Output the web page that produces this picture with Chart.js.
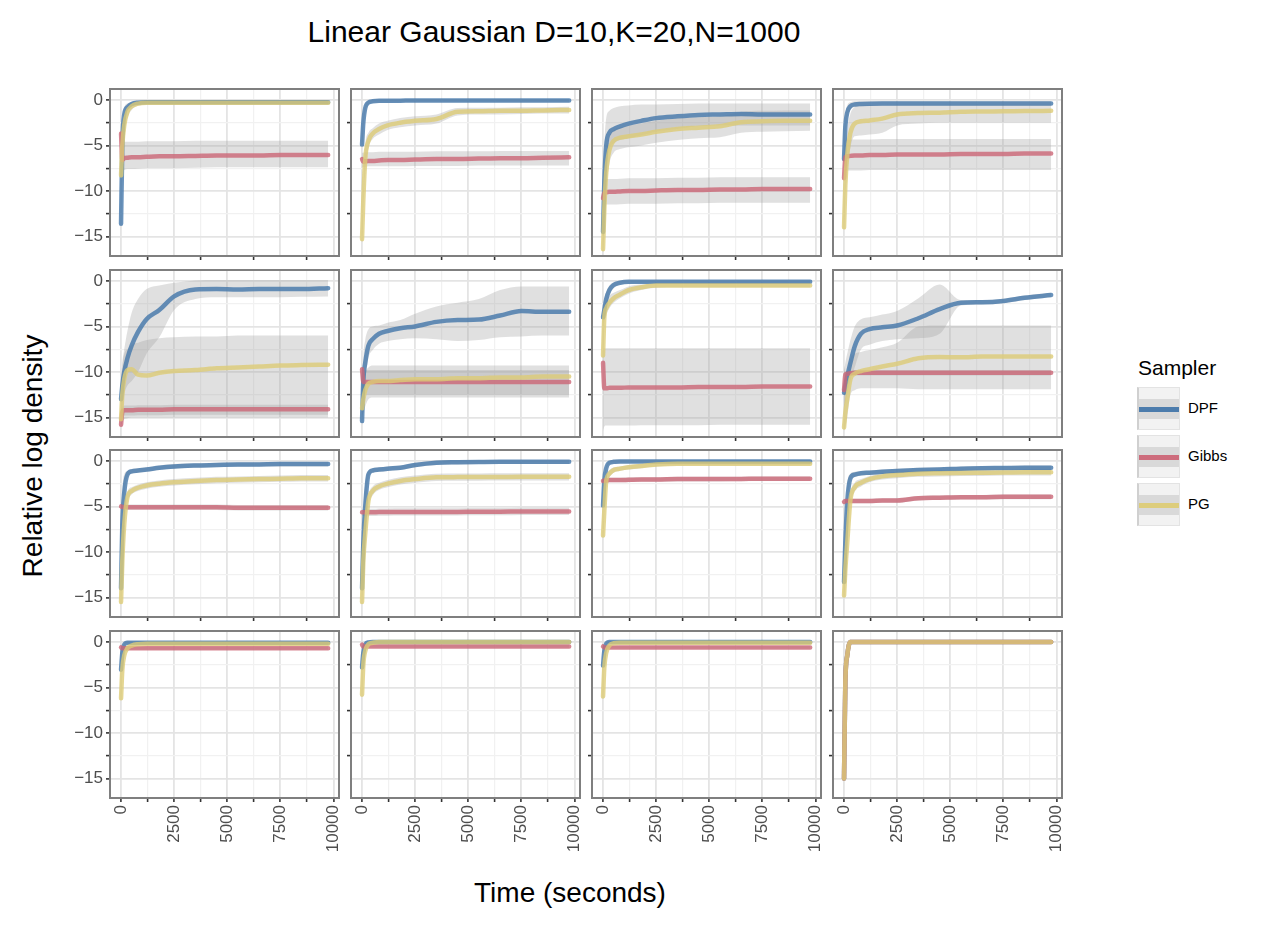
<!DOCTYPE html>
<html><head><meta charset="utf-8">
<script src="https://cdn.jsdelivr.net/npm/chart.js@4.4.1/dist/chart.umd.min.js"></script>
<style>
html,body{margin:0;padding:0;background:#fff;}
#root{position:relative;width:1281px;height:932px;background:#fff;overflow:hidden;font-family:"Liberation Sans",Arial,Helvetica,sans-serif;color:#000;}
#root canvas{position:absolute;}
.txt{position:absolute;white-space:nowrap;}
</style></head>
<body><div id="root"></div>
<script>
// ---------- data ----------
const samplers = ['DPF', 'Gibbs', 'PG'];
const times = [0, 60, 150, 300, 500, 800, 1200, 1800, 2500, 3500, 4500, 5500, 6500, 7500, 8500, 9750];
const xTickValues = [0, 1250, 2500, 3750, 5000, 6250, 7500, 8750, 10000];
const xTickLabels = ['0', '', '2500', '', '5000', '', '7500', '', '10000'];
const yTickValues = [-15, -12.5, -10, -7.5, -5, -2.5, 0];
const yTickLabels = ['\u221215', '', '\u221210', '', '\u22125', '', '0'];
const chartTitle = 'Linear Gaussian D=10,K=20,N=1000';
const xTitle = 'Time (seconds)';
const yTitle = 'Relative log density';
const legendTitle = 'Sampler';

const dpfMean = [
 [-13.6,-5,-1.6,-0.8,-0.45,-0.3,-0.25,-0.25,-0.25,-0.25,-0.25,-0.25,-0.25,-0.25,-0.25,-0.25],
 [-4.9,-2.5,-0.9,-0.3,-0.15,-0.1,-0.1,-0.08,-0.05,-0.05,-0.05,-0.05,-0.05,-0.05,-0.05,-0.05],
 [-14.5,-9,-5,-3.6,-3.2,-2.9,-2.6,-2.3,-2,-1.8,-1.65,-1.6,-1.55,-1.6,-1.6,-1.6],
 [-6.5,-3,-1.4,-0.7,-0.5,-0.45,-0.42,-0.4,-0.4,-0.4,-0.4,-0.4,-0.4,-0.4,-0.4,-0.4],
 [-13,-11.5,-10,-8.5,-7.1,-5.6,-4.2,-3.2,-1.7,-0.95,-0.9,-0.95,-0.9,-0.9,-0.9,-0.8],
 [-15.4,-11,-9,-7.1,-6.4,-5.8,-5.5,-5.2,-5,-4.5,-4.3,-4.25,-3.8,-3.3,-3.4,-3.4],
 [-4,-3.2,-2,-1,-0.45,-0.2,-0.1,-0.1,-0.1,-0.1,-0.1,-0.1,-0.1,-0.1,-0.1,-0.1],
 [-12.3,-11.5,-10.5,-9,-7.2,-5.8,-5.3,-5.1,-4.9,-4.1,-3.1,-2.4,-2.35,-2.2,-1.85,-1.55],
 [-14,-7,-3.5,-1.5,-1.15,-1.05,-0.95,-0.75,-0.6,-0.5,-0.45,-0.4,-0.38,-0.35,-0.35,-0.35],
 [-14,-9,-5,-1.5,-1.05,-0.95,-0.85,-0.75,-0.45,-0.2,-0.15,-0.12,-0.1,-0.1,-0.1,-0.1],
 [-4.9,-2.2,-0.8,-0.2,-0.1,-0.05,-0.05,-0.05,-0.05,-0.05,-0.05,-0.05,-0.05,-0.05,-0.05,-0.05],
 [-13.3,-9,-4.5,-1.9,-1.5,-1.35,-1.3,-1.2,-1.1,-1,-0.95,-0.85,-0.8,-0.78,-0.75,-0.75],
 [-3.05,-1.2,-0.3,-0.1,-0.1,-0.1,-0.1,-0.1,-0.1,-0.1,-0.1,-0.1,-0.1,-0.1,-0.1,-0.1],
 [-2.8,-1.2,-0.3,-0.05,0,0,0,0,0,0,0,0,0,0,0,0],
 [-2.6,-1,-0.2,0,0,0,0,0,0,0,0,0,0,0,0,0],
 [-15,-4.5,-1.5,0,0,0,0,0,0,0,0,0,0,0,0,0]
];
const dpfLow = [
 [-14.2,-6.5,-2.4,-1.2,-0.7,-0.5,-0.45,-0.45,-0.45,-0.45,-0.45,-0.45,-0.45,-0.45,-0.45,-0.45],
 [-5.5,-3.5,-1.4,-0.55,-0.35,-0.3,-0.3,-0.25,-0.25,-0.25,-0.25,-0.25,-0.25,-0.25,-0.25,-0.25],
 [-16,-12,-8,-5.5,-4.8,-4.4,-4.2,-3.9,-3.5,-3.2,-2.9,-2.8,-2.8,-2.8,-2.8,-2.8],
 [-7.5,-4.5,-2.2,-1.1,-0.8,-0.7,-0.65,-0.6,-0.6,-0.6,-0.6,-0.6,-0.6,-0.6,-0.6,-0.6],
 [-15,-14,-12.5,-11.5,-11,-10,-8,-6.2,-3.2,-2,-1.8,-1.8,-1.8,-1.8,-1.75,-1.7],
 [-16,-14,-11,-8.5,-7.6,-6.9,-6.6,-6.4,-6.3,-6.4,-6.6,-6.5,-6.2,-6.1,-6,-6],
 [-5,-4.2,-2.8,-1.5,-0.8,-0.4,-0.3,-0.25,-0.25,-0.25,-0.25,-0.25,-0.25,-0.25,-0.25,-0.25],
 [-14,-13.5,-12.5,-11,-9.5,-7.5,-7,-6.6,-6.4,-6.3,-5.8,-2.7,-2.6,-2.45,-2.1,-1.8],
 [-14.5,-8,-4.2,-1.8,-1.4,-1.3,-1.2,-1,-0.85,-0.75,-0.7,-0.65,-0.6,-0.6,-0.6,-0.6],
 [-14.5,-10,-6,-1.9,-1.3,-1.2,-1.1,-1,-0.7,-0.45,-0.4,-0.35,-0.35,-0.35,-0.35,-0.35],
 [-5.3,-2.6,-1.1,-0.4,-0.3,-0.25,-0.25,-0.25,-0.25,-0.25,-0.25,-0.25,-0.25,-0.25,-0.25,-0.25],
 [-13.8,-10,-5.5,-2.3,-1.8,-1.6,-1.55,-1.45,-1.35,-1.25,-1.2,-1.1,-1.05,-1,-1,-1],
 [-3.4,-1.5,-0.5,-0.25,-0.25,-0.25,-0.25,-0.25,-0.25,-0.25,-0.25,-0.25,-0.25,-0.25,-0.25,-0.25],
 [-3.1,-1.5,-0.5,-0.2,-0.15,-0.15,-0.15,-0.15,-0.15,-0.15,-0.15,-0.15,-0.15,-0.15,-0.15,-0.15],
 [-2.9,-1.3,-0.4,-0.15,-0.15,-0.15,-0.15,-0.15,-0.15,-0.15,-0.15,-0.15,-0.15,-0.15,-0.15,-0.15],
 [-15.1,-4.7,-1.7,-0.1,-0.1,-0.1,-0.1,-0.1,-0.1,-0.1,-0.1,-0.1,-0.1,-0.1,-0.1,-0.1]
];
const dpfHigh = [
 [-12.5,-3.5,-0.9,-0.4,-0.2,-0.1,-0.05,-0.05,-0.05,-0.05,-0.05,-0.05,-0.05,-0.05,-0.05,-0.05],
 [-4,-1.5,-0.5,-0.1,0,0.05,0.05,0.08,0.1,0.1,0.1,0.1,0.1,0.1,0.1,0.1],
 [-10,-5,-2,-1.2,-0.9,-0.7,-0.6,-0.5,-0.5,-0.45,-0.4,-0.4,-0.4,-0.4,-0.4,-0.4],
 [-5,-1.8,-0.6,-0.25,-0.15,-0.15,-0.15,-0.15,-0.15,-0.15,-0.15,-0.15,-0.15,-0.15,-0.15,-0.15],
 [-11,-9,-7.5,-5.5,-3.5,-2,-0.9,-0.5,-0.2,0.05,0.1,0.1,0.1,0.1,0.1,0.1],
 [-13,-8.5,-6.5,-5.3,-5,-4.9,-4.6,-4.3,-3.6,-2.8,-2.4,-2,-1,-0.6,-0.6,-0.6],
 [-3,-2,-1.2,-0.5,-0.15,0,0.05,0.05,0.05,0.05,0.05,0.05,0.05,0.05,0.05,0.05],
 [-10,-9,-8,-6.5,-5,-4.2,-4,-3.7,-3.3,-1.9,-0.4,-2.1,-2.1,-1.95,-1.6,-1.3],
 [-13,-4,-1.5,-1.1,-0.9,-0.8,-0.7,-0.5,-0.35,-0.25,-0.2,-0.15,-0.15,-0.1,-0.1,-0.1],
 [-13,-6,-2.5,-1.1,-0.8,-0.7,-0.6,-0.5,-0.2,0.05,0.1,0.1,0.1,0.1,0.1,0.1],
 [-4.5,-1.8,-0.5,0,0.1,0.12,0.12,0.12,0.12,0.12,0.12,0.12,0.12,0.12,0.12,0.12],
 [-12.5,-7,-2.5,-1.4,-1.2,-1.1,-1.05,-0.95,-0.85,-0.75,-0.7,-0.6,-0.55,-0.55,-0.5,-0.5],
 [-2.7,-0.9,-0.1,0.05,0.05,0.05,0.05,0.05,0.05,0.05,0.05,0.05,0.05,0.05,0.05,0.05],
 [-2.5,-0.9,-0.1,0.1,0.1,0.1,0.1,0.1,0.1,0.1,0.1,0.1,0.1,0.1,0.1,0.1],
 [-2.3,-0.7,0,0.1,0.1,0.1,0.1,0.1,0.1,0.1,0.1,0.1,0.1,0.1,0.1,0.1],
 [-14.9,-4.3,-1.3,0.1,0.1,0.1,0.1,0.1,0.1,0.1,0.1,0.1,0.1,0.1,0.1,0.1]
];

const gibbsMean = [
 [-3.7,-6.6,-6.4,-6.35,-6.3,-6.3,-6.25,-6.2,-6.2,-6.15,-6.1,-6.1,-6.1,-6.05,-6.05,-6.05],
 [-6.5,-6.8,-6.75,-6.7,-6.7,-6.65,-6.6,-6.6,-6.55,-6.5,-6.5,-6.45,-6.4,-6.4,-6.35,-6.3],
 [-10.8,-10.2,-10.15,-10.1,-10.1,-10.05,-10,-10,-9.95,-9.9,-9.9,-9.85,-9.85,-9.8,-9.8,-9.8],
 [-8.6,-6.3,-6.2,-6.15,-6.1,-6.1,-6.05,-6.05,-6,-6,-6,-5.95,-5.95,-5.95,-5.9,-5.9],
 [-15.8,-14.4,-14.2,-14.2,-14.2,-14.15,-14.15,-14.15,-14.1,-14.1,-14.1,-14.1,-14.1,-14.1,-14.1,-14.1],
 [-9.7,-11.1,-11.1,-11.1,-11.1,-11.1,-11.1,-11.1,-11.1,-11.1,-11.1,-11.1,-11.1,-11.1,-11.1,-11.1],
 [-9,-11.8,-11.8,-11.75,-11.75,-11.75,-11.7,-11.7,-11.7,-11.7,-11.65,-11.65,-11.65,-11.6,-11.6,-11.6],
 [-12,-10.3,-10.2,-10.15,-10.1,-10.1,-10.1,-10.1,-10.1,-10.1,-10.1,-10.1,-10.1,-10.1,-10.1,-10.1],
 [-5,-5.05,-5.05,-5.1,-5.1,-5.1,-5.1,-5.1,-5.1,-5.1,-5.1,-5.15,-5.15,-5.15,-5.15,-5.15],
 [-5.65,-5.65,-5.65,-5.65,-5.65,-5.62,-5.62,-5.6,-5.6,-5.6,-5.6,-5.58,-5.58,-5.55,-5.55,-5.55],
 [-2.2,-2.15,-2.15,-2.1,-2.1,-2.1,-2.08,-2.05,-2.05,-2,-2,-2,-1.98,-1.95,-1.95,-1.95],
 [-4.5,-4.4,-4.4,-4.4,-4.4,-4.4,-4.4,-4.35,-4.35,-4.1,-4.05,-4,-4,-3.95,-3.95,-3.95],
 [-0.6,-0.7,-0.7,-0.7,-0.7,-0.7,-0.7,-0.7,-0.7,-0.7,-0.7,-0.7,-0.7,-0.7,-0.7,-0.7],
 [-0.3,-0.5,-0.5,-0.5,-0.5,-0.5,-0.5,-0.5,-0.5,-0.5,-0.5,-0.5,-0.5,-0.5,-0.5,-0.5],
 [-0.5,-0.6,-0.6,-0.6,-0.6,-0.6,-0.6,-0.6,-0.6,-0.6,-0.6,-0.6,-0.6,-0.6,-0.6,-0.6],
 [-15,-4.5,-1.5,0,0,0,0,0,0,0,0,0,0,0,0,0]
];
const gibbsLow = [
 [-8.2,-7.9,-7.7,-7.6,-7.6,-7.55,-7.5,-7.5,-7.5,-7.45,-7.4,-7.4,-7.4,-7.4,-7.4,-7.4],
 [-7.4,-7.4,-7.35,-7.3,-7.3,-7.3,-7.3,-7.3,-7.25,-7.25,-7.25,-7.2,-7.2,-7.2,-7.2,-7.2],
 [-11.8,-11.6,-11.5,-11.5,-11.5,-11.45,-11.4,-11.4,-11.4,-11.35,-11.35,-11.3,-11.3,-11.3,-11.3,-11.3],
 [-8.8,-7.8,-7.75,-7.75,-7.75,-7.75,-7.7,-7.7,-7.7,-7.7,-7.7,-7.7,-7.7,-7.7,-7.7,-7.7],
 [-16.3,-15,-14.8,-14.8,-14.8,-14.75,-14.75,-14.75,-14.7,-14.7,-14.7,-14.7,-14.7,-14.7,-14.7,-14.7],
 [-12.6,-12.5,-12.5,-12.5,-12.5,-12.5,-12.5,-12.5,-12.5,-12.5,-12.5,-12.5,-12.5,-12.5,-12.5,-12.5],
 [-16.5,-16,-15.9,-15.9,-15.9,-15.9,-15.9,-15.85,-15.85,-15.85,-15.85,-15.8,-15.8,-15.8,-15.8,-15.8],
 [-12.4,-10.6,-10.5,-10.45,-10.4,-10.4,-10.4,-10.4,-10.4,-10.4,-10.4,-10.4,-10.4,-10.4,-10.4,-10.4],
 [-5.3,-5.35,-5.35,-5.4,-5.4,-5.4,-5.4,-5.4,-5.4,-5.4,-5.4,-5.45,-5.45,-5.45,-5.45,-5.45],
 [-6.05,-6.05,-6.05,-6.05,-6.05,-6.02,-6.02,-6,-6,-6,-6,-5.98,-5.98,-5.95,-5.95,-5.95],
 [-2.45,-2.4,-2.4,-2.35,-2.35,-2.35,-2.33,-2.3,-2.3,-2.25,-2.25,-2.25,-2.23,-2.2,-2.2,-2.2],
 [-4.8,-4.65,-4.65,-4.65,-4.65,-4.65,-4.65,-4.6,-4.6,-4.35,-4.3,-4.25,-4.25,-4.2,-4.2,-4.2],
 [-0.8,-0.85,-0.85,-0.85,-0.85,-0.85,-0.85,-0.85,-0.85,-0.85,-0.85,-0.85,-0.85,-0.85,-0.85,-0.85],
 [-0.5,-0.65,-0.65,-0.65,-0.65,-0.65,-0.65,-0.65,-0.65,-0.65,-0.65,-0.65,-0.65,-0.65,-0.65,-0.65],
 [-0.7,-0.75,-0.75,-0.75,-0.75,-0.75,-0.75,-0.75,-0.75,-0.75,-0.75,-0.75,-0.75,-0.75,-0.75,-0.75],
 [-15.1,-4.7,-1.7,-0.1,-0.1,-0.1,-0.1,-0.1,-0.1,-0.1,-0.1,-0.1,-0.1,-0.1,-0.1,-0.1]
];
const gibbsHigh = [
 [-3.5,-4.6,-4.6,-4.6,-4.6,-4.6,-4.55,-4.55,-4.55,-4.5,-4.5,-4.5,-4.5,-4.5,-4.5,-4.5],
 [-5.8,-5.8,-5.75,-5.75,-5.75,-5.7,-5.7,-5.7,-5.7,-5.65,-5.65,-5.65,-5.6,-5.6,-5.6,-5.6],
 [-8.8,-8.7,-8.7,-8.7,-8.7,-8.65,-8.6,-8.6,-8.6,-8.55,-8.55,-8.5,-8.5,-8.5,-8.5,-8.5],
 [-4.5,-4.4,-4.35,-4.35,-4.35,-4.35,-4.35,-4.3,-4.3,-4.3,-4.3,-4.3,-4.3,-4.3,-4.3,-4.3],
 [-14,-13.8,-13.7,-13.7,-13.7,-13.65,-13.65,-13.65,-13.6,-13.6,-13.6,-13.6,-13.6,-13.6,-13.6,-13.6],
 [-9.6,-9.8,-9.8,-9.8,-9.8,-9.8,-9.8,-9.8,-9.8,-9.8,-9.8,-9.8,-9.8,-9.8,-9.8,-9.8],
 [-7.5,-7.4,-7.4,-7.4,-7.4,-7.4,-7.4,-7.4,-7.4,-7.4,-7.4,-7.4,-7.4,-7.4,-7.4,-7.4],
 [-9.3,-10,-9.9,-9.85,-9.8,-9.8,-9.8,-9.8,-9.8,-9.8,-9.8,-9.8,-9.8,-9.8,-9.8,-9.8],
 [-4.7,-4.75,-4.75,-4.8,-4.8,-4.8,-4.8,-4.8,-4.8,-4.8,-4.8,-4.85,-4.85,-4.85,-4.85,-4.85],
 [-5.25,-5.25,-5.25,-5.25,-5.25,-5.22,-5.22,-5.2,-5.2,-5.2,-5.2,-5.18,-5.18,-5.15,-5.15,-5.15],
 [-1.95,-1.9,-1.9,-1.85,-1.85,-1.85,-1.83,-1.8,-1.8,-1.75,-1.75,-1.75,-1.73,-1.7,-1.7,-1.7],
 [-4.2,-4.15,-4.15,-4.15,-4.15,-4.15,-4.15,-4.1,-4.1,-3.85,-3.8,-3.75,-3.75,-3.7,-3.7,-3.7],
 [-0.4,-0.55,-0.55,-0.55,-0.55,-0.55,-0.55,-0.55,-0.55,-0.55,-0.55,-0.55,-0.55,-0.55,-0.55,-0.55],
 [-0.1,-0.35,-0.35,-0.35,-0.35,-0.35,-0.35,-0.35,-0.35,-0.35,-0.35,-0.35,-0.35,-0.35,-0.35,-0.35],
 [-0.3,-0.45,-0.45,-0.45,-0.45,-0.45,-0.45,-0.45,-0.45,-0.45,-0.45,-0.45,-0.45,-0.45,-0.45,-0.45],
 [-14.9,-4.3,-1.3,0.1,0.1,0.1,0.1,0.1,0.1,0.1,0.1,0.1,0.1,0.1,0.1,0.1]
];

const pgMean = [
 [-8.3,-5,-2.8,-1.3,-0.7,-0.4,-0.3,-0.3,-0.3,-0.3,-0.3,-0.3,-0.3,-0.3,-0.3,-0.3],
 [-15.3,-11,-6.5,-4.5,-3.7,-3.2,-2.8,-2.5,-2.3,-2.1,-1.3,-1.25,-1.2,-1.2,-1.15,-1.1],
 [-16.4,-12,-8,-5.5,-4.5,-4.15,-4,-3.8,-3.5,-3.2,-3.05,-2.9,-2.45,-2.35,-2.3,-2.3],
 [-14,-9.4,-6,-3.6,-2.6,-2.35,-2.25,-2.05,-1.6,-1.45,-1.4,-1.3,-1.27,-1.25,-1.22,-1.2],
 [-15.2,-12.5,-10.8,-9.8,-9.7,-10.3,-10.4,-10.1,-9.9,-9.8,-9.6,-9.5,-9.4,-9.3,-9.25,-9.2],
 [-14,-13,-12,-11.3,-11.1,-11,-11,-10.9,-10.8,-10.8,-10.7,-10.7,-10.6,-10.6,-10.5,-10.5],
 [-8.2,-4,-3,-2.4,-1.9,-1.5,-1,-0.7,-0.5,-0.5,-0.5,-0.5,-0.5,-0.5,-0.5,-0.5],
 [-16.1,-14.5,-13,-10.8,-10.2,-9.9,-9.7,-9.4,-9.1,-8.5,-8.35,-8.4,-8.3,-8.3,-8.3,-8.3],
 [-15.5,-11,-7,-4,-3.3,-2.95,-2.7,-2.5,-2.35,-2.2,-2.1,-2.05,-2,-1.95,-1.9,-1.9],
 [-15.5,-11,-8,-4.4,-3.3,-2.8,-2.5,-2.2,-2,-1.8,-1.78,-1.77,-1.76,-1.75,-1.75,-1.75],
 [-8.2,-5.5,-2.2,-1.4,-1,-0.85,-0.7,-0.55,-0.4,-0.3,-0.3,-0.3,-0.3,-0.3,-0.3,-0.3],
 [-14.8,-12,-9,-4.3,-2.9,-2.4,-2,-1.7,-1.55,-1.4,-1.35,-1.32,-1.3,-1.28,-1.25,-1.25],
 [-6.2,-3.05,-1.5,-0.7,-0.4,-0.25,-0.2,-0.2,-0.2,-0.2,-0.2,-0.2,-0.2,-0.2,-0.2,-0.2],
 [-5.8,-2.5,-1,-0.25,-0.1,0,0,0,0,0,0,0,0,0,0,0],
 [-6,-2.8,-1.2,-0.4,-0.15,-0.1,-0.1,-0.1,-0.1,-0.1,-0.1,-0.1,-0.1,-0.1,-0.1,-0.1],
 [-15,-4.5,-1.5,0,0,0,0,0,0,0,0,0,0,0,0,0]
];
const pgLow = [
 [-9,-6.3,-3.8,-2,-1.1,-0.65,-0.5,-0.5,-0.5,-0.5,-0.5,-0.5,-0.5,-0.5,-0.5,-0.5],
 [-15.8,-12.5,-8,-5.3,-4.3,-3.8,-3.3,-3,-2.8,-2.6,-1.7,-1.6,-1.6,-1.55,-1.5,-1.5],
 [-16.8,-14,-10,-7,-5.8,-5.4,-5.2,-5,-4.7,-4.4,-4.2,-4.1,-3.6,-3.5,-3.45,-3.4],
 [-14.5,-11,-8,-5.2,-4,-3.9,-3.8,-3.6,-2.8,-2.6,-2.5,-2.5,-2.5,-2.5,-2.5,-2.5],
 [-16,-15.5,-15.2,-15.1,-15,-15,-15,-15,-15,-15,-15,-15,-15,-15,-15,-15],
 [-14.8,-14.5,-13.8,-13,-12.8,-12.8,-12.8,-12.8,-12.8,-12.8,-12.8,-12.8,-12.8,-12.8,-12.8,-12.8],
 [-9,-5,-3.8,-3,-2.4,-1.9,-1.4,-1,-0.75,-0.7,-0.7,-0.7,-0.7,-0.7,-0.7,-0.7],
 [-16.5,-16,-15,-12.5,-12,-11.8,-11.8,-11.8,-11.8,-11.9,-11.9,-11.9,-11.9,-11.9,-11.9,-11.9],
 [-15.9,-12,-8,-4.6,-3.7,-3.3,-3.05,-2.85,-2.7,-2.55,-2.45,-2.4,-2.35,-2.3,-2.25,-2.25],
 [-15.9,-12,-9,-5,-3.8,-3.2,-2.9,-2.6,-2.4,-2.2,-2.18,-2.17,-2.16,-2.15,-2.15,-2.15],
 [-8.8,-6.2,-2.7,-1.8,-1.3,-1.1,-0.95,-0.8,-0.6,-0.5,-0.5,-0.5,-0.5,-0.5,-0.5,-0.5],
 [-15.3,-13,-10,-5,-3.4,-2.8,-2.35,-2.05,-1.9,-1.75,-1.7,-1.65,-1.65,-1.6,-1.6,-1.6],
 [-6.6,-3.5,-1.8,-0.9,-0.55,-0.4,-0.35,-0.35,-0.35,-0.35,-0.35,-0.35,-0.35,-0.35,-0.35,-0.35],
 [-6.2,-2.9,-1.3,-0.45,-0.25,-0.15,-0.15,-0.15,-0.15,-0.15,-0.15,-0.15,-0.15,-0.15,-0.15,-0.15],
 [-6.4,-3.2,-1.5,-0.6,-0.3,-0.25,-0.25,-0.25,-0.25,-0.25,-0.25,-0.25,-0.25,-0.25,-0.25,-0.25],
 [-15.1,-4.7,-1.7,-0.1,-0.1,-0.1,-0.1,-0.1,-0.1,-0.1,-0.1,-0.1,-0.1,-0.1,-0.1,-0.1]
];
const pgHigh = [
 [-7.5,-3.8,-1.8,-0.7,-0.35,-0.15,-0.1,-0.1,-0.1,-0.1,-0.1,-0.1,-0.1,-0.1,-0.1,-0.1],
 [-14.5,-9.5,-5,-3.6,-3.1,-2.6,-2.3,-2,-1.8,-1.6,-0.9,-0.85,-0.85,-0.8,-0.8,-0.75],
 [-15.5,-10,-6,-4,-3.3,-3,-2.8,-2.6,-2.3,-2,-1.9,-1.8,-1.3,-1.2,-1.15,-1.15],
 [-13,-7,-3.5,-1.5,-0.8,-0.6,-0.55,-0.55,-0.5,-0.5,-0.5,-0.5,-0.5,-0.5,-0.5,-0.5],
 [-12,-9.5,-8,-7.5,-7,-6.8,-6.5,-6.3,-6.2,-6.1,-6.1,-6,-6,-6,-6,-6],
 [-12,-11,-10,-9.5,-9.3,-9.3,-9.3,-9.3,-9.3,-9.3,-9.3,-9.3,-9.3,-9.3,-9.3,-9.3],
 [-7.5,-3,-2.2,-1.6,-1.3,-1,-0.6,-0.4,-0.3,-0.3,-0.3,-0.3,-0.3,-0.3,-0.3,-0.3],
 [-12,-11,-10,-8.5,-8,-7.8,-7.6,-7.3,-6.8,-5,-4.9,-4.9,-4.9,-4.9,-4.9,-4.9],
 [-15.1,-10,-6,-3.4,-2.9,-2.6,-2.35,-2.15,-2,-1.85,-1.75,-1.7,-1.65,-1.6,-1.55,-1.55],
 [-15.1,-10,-7,-3.8,-2.8,-2.4,-2.1,-1.8,-1.6,-1.4,-1.38,-1.37,-1.36,-1.35,-1.35,-1.35],
 [-7.6,-4.8,-1.7,-1,-0.7,-0.6,-0.45,-0.3,-0.2,-0.1,-0.1,-0.1,-0.1,-0.1,-0.1,-0.1],
 [-14.3,-11,-8,-3.6,-2.4,-2,-1.65,-1.35,-1.2,-1.05,-1,-0.98,-0.95,-0.95,-0.9,-0.9],
 [-5.8,-2.6,-1.2,-0.5,-0.25,-0.1,-0.05,-0.05,-0.05,-0.05,-0.05,-0.05,-0.05,-0.05,-0.05,-0.05],
 [-5.4,-2.1,-0.7,-0.05,0.05,0.1,0.1,0.1,0.1,0.1,0.1,0.1,0.1,0.1,0.1,0.1],
 [-5.6,-2.4,-0.9,-0.2,0,0.05,0.05,0.05,0.05,0.05,0.05,0.05,0.05,0.05,0.05,0.05],
 [-14.9,-4.3,-1.3,0.1,0.1,0.1,0.1,0.1,0.1,0.1,0.1,0.1,0.1,0.1,0.1,0.1]
];

// ---------- styling / layout ----------
const FONT = '"Liberation Sans", Arial, Helvetica, sans-serif';
const seriesStyle = {
  DPF:   {line: 'rgba(68,119,170,0.8)',  key: 'rgba(68,119,170,0.95)'},
  Gibbs: {line: 'rgba(204,102,119,0.8)', key: 'rgba(204,102,119,0.95)'},
  PG:    {line: 'rgba(221,204,119,0.8)', key: 'rgba(221,204,119,0.95)'}
};
const seriesData = {
  DPF: [dpfMean, dpfLow, dpfHigh],
  Gibbs: [gibbsMean, gibbsLow, gibbsHigh],
  PG: [pgMean, pgLow, pgHigh]
};
const RIBBON = 'rgba(160,160,160,0.33)';
const PW = 229, PH = 167;
const colLeft = [110, 351, 592, 833];
const rowTop = [89, 270, 450, 631];
const AXW = 52, PADT = 3, PADR = 3;
const X_MIN = -520, X_MAX = 10260, Y_MIN = -17.15, Y_MAX = 1.2;

const root = document.getElementById('root');

function addText(txt, css) {
  const d = document.createElement('div');
  d.className = 'txt';
  d.textContent = txt;
  Object.assign(d.style, css);
  root.appendChild(d);
  return d;
}

const panelBorder = {
  id: 'panelBorder',
  afterDraw(chart) {
    const a = chart.chartArea, ctx = chart.ctx;
    ctx.save();
    ctx.strokeStyle = '#7f7f7f';
    ctx.lineWidth = 2;
    ctx.strokeRect(a.left, a.top, a.right - a.left, a.bottom - a.top);
    ctx.restore();
  }
};

const isMajorX = v => v % 2500 === 0;
const isMajorY = v => v % 5 === 0;

function pts(arr) { return times.map((t, i) => ({x: t, y: arr[i]})); }

function makePanel(p) {
  const r = Math.floor(p / 4), c = p % 4;
  const bottomRow = r === 3, leftCol = c === 0;
  const AXH = bottomRow ? 66 : 8;
  const w = AXW + PW + PADR, h = PADT + PH + AXH;
  const cv = document.createElement('canvas');
  cv.width = w; cv.height = h;
  cv.style.left = (colLeft[c] - AXW) + 'px';
  cv.style.top = (rowTop[r] - PADT) + 'px';
  cv.style.width = w + 'px'; cv.style.height = h + 'px';
  root.appendChild(cv);

  const datasets = [];
  // ribbons first (drawn underneath)
  samplers.forEach(s => {
    const [, lo, hi] = seriesData[s];
    datasets.push({data: pts(lo[p]), borderColor: 'rgba(0,0,0,0)', borderWidth: 0, pointRadius: 0,
      fill: false, order: 10, cubicInterpolationMode: 'monotone'});
    datasets.push({data: pts(hi[p]), borderColor: 'rgba(0,0,0,0)', borderWidth: 0, pointRadius: 0,
      fill: '-1', backgroundColor: RIBBON, order: 10, cubicInterpolationMode: 'monotone'});
  });
  samplers.forEach((s, k) => {
    const [mean] = seriesData[s];
    datasets.push({label: s, data: pts(mean[p]), borderColor: seriesStyle[s].line, borderWidth: 4.5,
      pointRadius: 0, fill: false, order: 3 - k, cubicInterpolationMode: 'monotone',
      borderCapStyle: 'round', borderJoinStyle: 'round'});
  });

  new Chart(cv, {
    type: 'line',
    data: {datasets},
    plugins: [panelBorder],
    options: {
      responsive: false, animation: false, devicePixelRatio: 1,
      layout: {padding: {left: 0, right: PADR, top: PADT, bottom: 0}},
      plugins: {legend: {display: false}, tooltip: {enabled: false}, title: {display: false}},
      events: [],
      scales: {
        x: {
          type: 'linear', min: X_MIN, max: X_MAX,
          afterBuildTicks: s => { s.ticks = xTickValues.map(v => ({value: v})); },
          afterFit: s => { s.height = AXH; s.paddingLeft = 0; s.paddingRight = 0; },
          border: {display: false},
          grid: {
            color: ctx => (ctx.tick && isMajorX(ctx.tick.value)) ? '#e4e4e4' : '#f1f1f1',
            lineWidth: ctx => (ctx.tick && isMajorX(ctx.tick.value)) ? 1.8 : 1.2,
            drawTicks: true, tickLength: 4, tickWidth: 1.6,
            tickColor: ctx => (ctx.tick && isMajorX(ctx.tick.value) && !bottomRow) ? 'rgba(0,0,0,0)' : '#333'
          },
          ticks: {
            autoSkip: false, maxRotation: 90, minRotation: 90, padding: 3,
            font: {family: FONT, size: 17}, color: '#4d4d4d',
            callback: v => bottomRow ? (xTickLabels[xTickValues.indexOf(v)] || '') : ''
          }
        },
        y: {
          type: 'linear', min: Y_MIN, max: Y_MAX,
          afterBuildTicks: s => { s.ticks = yTickValues.map(v => ({value: v})); },
          afterFit: s => { s.width = AXW; s.paddingTop = 0; s.paddingBottom = 0; },
          border: {display: false},
          grid: {
            color: ctx => (ctx.tick && isMajorY(ctx.tick.value)) ? '#e4e4e4' : '#f1f1f1',
            lineWidth: ctx => (ctx.tick && isMajorY(ctx.tick.value)) ? 1.8 : 1.2,
            drawTicks: true, tickLength: 4, tickWidth: 1.6,
            tickColor: ctx => (ctx.tick && isMajorY(ctx.tick.value) && !leftCol) ? 'rgba(0,0,0,0)' : '#333'
          },
          ticks: {
            autoSkip: false, padding: 3,
            font: {family: FONT, size: 17}, color: '#4d4d4d',
            callback: v => leftCol ? (yTickLabels[yTickValues.indexOf(v)] || '') : ''
          }
        }
      }
    }
  });
}

for (let p = 0; p < 16; p++) makePanel(p);

// titles
addText(chartTitle, {left: '254px', width: '600px', textAlign: 'center', top: '17px', fontSize: '30px', lineHeight: '30px'});
addText(xTitle, {left: '370px', width: '400px', textAlign: 'center', top: '878px', fontSize: '28px', lineHeight: '30px'});
const yt = addText(yTitle, {left: '33px', top: '456px', fontSize: '28px', lineHeight: '30px',
  transform: 'translate(-50%,-50%) rotate(-90deg)'});

// legend
addText(legendTitle, {left: '1138px', top: '356px', fontSize: '21px', lineHeight: '24px'});
samplers.forEach((s, k) => {
  const top = 387 + k * 48;
  const box = document.createElement('div');
  Object.assign(box.style, {position: 'absolute', left: '1137px', top: top + 'px', width: '43px', height: '43px',
    background: '#f2f2f2', boxSizing: 'border-box', border: '1px solid #e3e3e3', borderLeft: '2px solid #d0d0d0'});
  const band = document.createElement('div');
  Object.assign(band.style, {position: 'absolute', left: '0', right: '0', top: '11px', height: '20px', background: '#d9d9d9'});
  const ln = document.createElement('div');
  Object.assign(ln.style, {position: 'absolute', left: '0', right: '0', top: '18.5px', height: '5px', background: seriesStyle[s].key});
  box.appendChild(band); box.appendChild(ln);
  root.appendChild(box);
  addText(s, {left: '1188px', top: (top + 12) + 'px', fontSize: '15px', lineHeight: '18px'});
});
</script>
</body></html>
